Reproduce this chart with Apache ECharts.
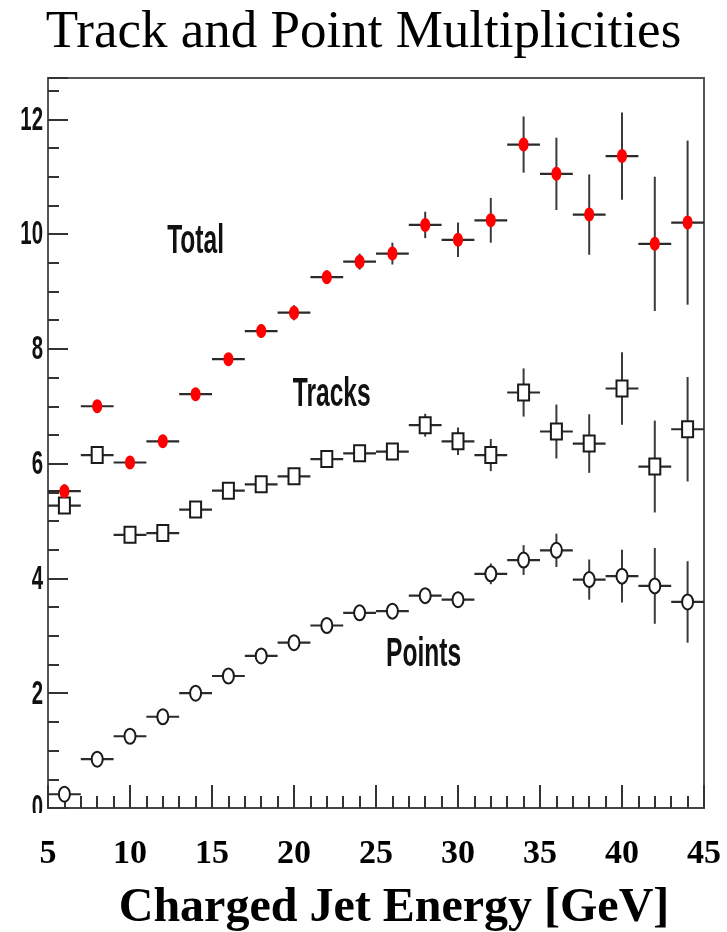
<!DOCTYPE html>
<html>
<head>
<meta charset="utf-8">
<script src="https://cdn.jsdelivr.net/npm/echarts@6/dist/echarts.min.js"></script>
<style>
html,body{margin:0;padding:0;background:#fff;}
#chart{width:727px;height:932px;}
</style>
</head>
<body>
<div id="chart"></div>
<script>
// ---- data ----
const binCenters = [6, 8, 10, 12, 14, 16, 18, 20, 22, 24, 26, 28, 30, 32, 34, 36, 38, 40, 42, 44];
const binHalfWidth = 1;

const totalVals = [5.52, 7.00, 6.02, 6.39, 7.21, 7.82, 8.31, 8.63, 9.25, 9.52, 9.66, 10.16, 9.90, 10.24, 11.56, 11.05, 10.34, 11.36, 9.83, 10.20];
const totalErr  = [0.12, 0.10, 0.08, 0.10, 0.10, 0.10, 0.12, 0.13, 0.12, 0.14, 0.19, 0.23, 0.30, 0.39, 0.49, 0.63, 0.70, 0.76, 1.17, 1.43];

const trackVals = [5.27, 6.15, 4.76, 4.79, 5.20, 5.53, 5.64, 5.78, 6.08, 6.18, 6.21, 6.67, 6.39, 6.15, 7.24, 6.56, 6.35, 7.31, 5.95, 6.60];
const trackErr  = [0.08, 0.08, 0.08, 0.08, 0.08, 0.08, 0.10, 0.10, 0.10, 0.10, 0.14, 0.20, 0.24, 0.28, 0.42, 0.47, 0.51, 0.63, 0.80, 0.91];

const pointVals = [0.24, 0.85, 1.25, 1.59, 2.00, 2.30, 2.65, 2.88, 3.18, 3.40, 3.43, 3.70, 3.63, 4.08, 4.32, 4.49, 3.98, 4.04, 3.87, 3.59];
const pointErr  = [0.10, 0.08, 0.08, 0.08, 0.08, 0.08, 0.09, 0.09, 0.10, 0.10, 0.11, 0.13, 0.14, 0.18, 0.26, 0.29, 0.35, 0.46, 0.66, 0.71];

const xTicks = [5, 10, 15, 20, 25, 30, 35, 40, 45];
const yTicks = [0, 2, 4, 6, 8, 10, 12];
const yMax = 12.72;

const annotationTexts = ['Total', 'Tracks', 'Points'];
const annotationX = [14.0, 22.3, 27.9];
const annotationY = [9.86, 7.21, 2.68];

const titleText = 'Track and Point Multiplicities';
const xAxisTitle = 'Charged Jet Energy [GeV]';

// ---- build ----
function rows(vals, errs) {
  return binCenters.map((x, i) => [x, vals[i], errs[i]]);
}

const sansFont = '"Liberation Sans", Arial, Helvetica, sans-serif';
const serifFont = '"Liberation Serif", "Times New Roman", serif';

function makeRender(marker) {
  return function (params, api) {
    const x = api.value(0), y = api.value(1), e = api.value(2);
    const c = api.coord([x, y]);
    const l = api.coord([x - binHalfWidth, y]);
    const r = api.coord([x + binHalfWidth, y]);
    const t = api.coord([x, y + e]);
    const b = api.coord([x, y - e]);
    const children = [
      { type: 'line', shape: { x1: l[0], y1: c[1], x2: r[0], y2: c[1] }, style: { stroke: '#2a2a2a', lineWidth: 2.2 } },
      { type: 'line', shape: { x1: c[0], y1: t[1], x2: c[0], y2: b[1] }, style: { stroke: '#3a3a3a', lineWidth: 2 } }
    ];
    if (marker === 'red') {
      children.push({ type: 'ellipse', shape: { cx: c[0], cy: c[1], rx: 5, ry: 7 }, style: { fill: '#ff0000', stroke: null } });
    } else if (marker === 'square') {
      children.push({ type: 'rect', shape: { x: c[0] - 5.5, y: c[1] - 8, width: 11, height: 16 }, style: { fill: '#ffffff', stroke: '#1a1a1a', lineWidth: 2 } });
    } else {
      children.push({ type: 'ellipse', shape: { cx: c[0], cy: c[1], rx: 5.5, ry: 7.5 }, style: { fill: '#ffffff', stroke: '#1a1a1a', lineWidth: 2 } });
    }
    return { type: 'group', children };
  };
}

const annotationRows = annotationTexts.map((t, i) => [annotationX[i], annotationY[i], t]);
const yLabelRows = yTicks.map(v => [xTicks[0], v]);

const chart = echarts.init(document.getElementById('chart'), null, { renderer: 'canvas' });
chart.setOption({
  backgroundColor: '#ffffff',
  animation: false,
  title: {
    text: titleText,
    left: 'center',
    top: 2,
    textStyle: { fontFamily: serifFont, fontWeight: 'normal', fontSize: 53, color: '#000' }
  },
  grid: {
    left: 48, right: 23, top: 78, bottom: 124,
    show: true, borderColor: '#555', borderWidth: 2, backgroundColor: 'transparent'
  },
  xAxis: {
    type: 'value', min: xTicks[0], max: xTicks[xTicks.length - 1], interval: xTicks[1] - xTicks[0],
    splitLine: { show: false },
    axisLine: { show: true, lineStyle: { color: '#444', width: 2 } },
    axisTick: { show: true, inside: true, length: 23, lineStyle: { color: '#333', width: 2 } },
    minorTick: { show: true, splitNumber: 5, length: 12, lineStyle: { color: '#333', width: 2 } },
    axisLabel: { margin: 29, fontFamily: serifFont, fontWeight: 'bold', fontSize: 34, color: '#000' }
  },
  yAxis: {
    type: 'value', min: yTicks[0], max: yMax, interval: yTicks[1] - yTicks[0],
    splitLine: { show: false },
    axisLine: { show: true, lineStyle: { color: '#555', width: 2 } },
    axisTick: { show: true, inside: true, length: 20, lineStyle: { color: '#333', width: 2 } },
    minorTick: { show: true, splitNumber: 4, length: 11, lineStyle: { color: '#333', width: 2 } },
    axisLabel: { show: false }
  },
  graphic: [
    { type: 'rect', left: 0, top: 813, shape: { width: 46, height: 18 }, style: { fill: '#ffffff' }, z: 100 },
    { type: 'text', x: 394, y: 885, z: 100,
      style: { text: xAxisTitle, textAlign: 'center', textVerticalAlign: 'top', fill: '#000',
               fontFamily: serifFont, fontWeight: 'bold', fontSize: 48 } }
  ],
  series: [
    { name: 'Points', type: 'custom', renderItem: makeRender('circle'), data: rows(pointVals, pointErr), encode: { x: 0, y: 1 }, clip: false },
    { name: 'Tracks', type: 'custom', renderItem: makeRender('square'), data: rows(trackVals, trackErr), encode: { x: 0, y: 1 }, clip: false },
    { name: 'Total', type: 'custom', renderItem: makeRender('red'), data: rows(totalVals, totalErr), encode: { x: 0, y: 1 }, clip: false },
    { name: 'yTickLabels', type: 'custom', data: yLabelRows, encode: { x: 0, y: 1 }, clip: false,
      renderItem: function (params, api) {
        const c = api.coord([api.value(0), api.value(1)]);
        return { type: 'text', x: c[0] - 5, y: c[1] + 1, scaleX: 0.6,
          style: { text: String(yTicks[params.dataIndex]), textAlign: 'right', textVerticalAlign: 'middle', fill: '#111',
                   fontFamily: sansFont, fontWeight: 'bold', fontSize: 34 } };
      } },
    { name: 'labels', type: 'custom', data: annotationRows, encode: { x: 0, y: 1 },
      renderItem: function (params, api) {
        const c = api.coord([api.value(0), api.value(1)]);
        return { type: 'text', x: c[0], y: c[1], scaleX: 0.6,
          style: { text: annotationRows[params.dataIndex][2], textAlign: 'center', textVerticalAlign: 'middle', fill: '#111',
                   fontFamily: sansFont, fontWeight: 'bold', fontSize: 41 } };
      } }
  ]
});
</script>
</body>
</html>
